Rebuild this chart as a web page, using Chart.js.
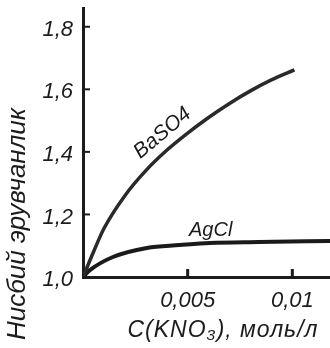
<!DOCTYPE html>
<html>
<head>
<meta charset="utf-8">
<script src="https://cdn.jsdelivr.net/npm/chart.js@4"></script>
<style>
	html, body { margin: 0; padding: 0; background: #fff; }
	#wrap { width: 330px; height: 348px; }
</style>
</head>
<body>
<div id="wrap"><canvas id="chart" width="330" height="348"></canvas></div>
<script>
// C(KNO3), mol/l  vs  relative solubility
const baso4X = [0, 0.00025, 0.0005, 0.001, 0.002, 0.003, 0.004, 0.005, 0.006, 0.007, 0.008, 0.009, 0.0101];
const baso4Y = [1.0, 1.04, 1.08, 1.155, 1.26, 1.34, 1.405, 1.46, 1.51, 1.555, 1.595, 1.63, 1.662];
const agclX = [0, 0.00033, 0.00143, 0.00305, 0.00462, 0.00605, 0.0084, 0.0118];
const agclY = [1.0, 1.022, 1.064, 1.093, 1.102, 1.109, 1.112, 1.115];
const yTicks = [1.0, 1.2, 1.4, 1.6, 1.8];
const xTicks = [0.005, 0.01];
const xTickLabels = ['0,005', '0,01'];

const ink = '#1c1c1c';
const family = "'Liberation Sans', 'DejaVu Sans', sans-serif";
const italic = (size) => ({ family: family, size: size, style: 'italic' });

const toPoints = (xs, ys) => xs.map((x, i) => ({ x: x, y: ys[i] }));

const decor = {
	id: 'decor',
	afterDatasetsDraw(chart) {
		const ctx = chart.ctx;
		const xs = chart.scales.x;
		const ys = chart.scales.y;
		ctx.save();
		ctx.strokeStyle = ink;
		// inward tick marks
		ctx.lineWidth = 2;
		for (const v of yTicks) {
			const py = ys.getPixelForValue(v);
			ctx.beginPath();
			ctx.moveTo(xs.left, py);
			ctx.lineTo(xs.left + 7, py);
			ctx.stroke();
		}
		ctx.lineWidth = 3;
		for (const v of xTicks) {
			const px = xs.getPixelForValue(v);
			ctx.beginPath();
			ctx.moveTo(px, ys.bottom);
			ctx.lineTo(px, ys.bottom - 8);
			ctx.stroke();
		}
		ctx.fillStyle = ink;
		ctx.textAlign = 'center';
		ctx.textBaseline = 'middle';
		// curve names
		ctx.font = 'italic 21px ' + family;
		ctx.save();
		ctx.translate(xs.getPixelForValue(0.0038), ys.getPixelForValue(1.46));
		ctx.rotate(-40 * Math.PI / 180);
		ctx.fillText('BaSO4', 0, 0);
		ctx.restore();
		ctx.font = 'italic 20px ' + family;
		ctx.fillText('AgCl', xs.getPixelForValue(0.0061), ys.getPixelForValue(1.15));
		// axis titles
		ctx.font = 'italic 26px ' + family;
		ctx.save();
		ctx.translate(18, 224);
		ctx.rotate(-Math.PI / 2);
		ctx.fillText('Нисбий эрувчанлик', 0, 0);
		ctx.restore();
		ctx.font = 'italic 23px ' + family;
		ctx.letterSpacing = '1px';
		ctx.fillText('C(KNO₃), моль/л', 223, 331);
		ctx.restore();
	}
};

const ctx = document.getElementById('chart').getContext('2d');
window.myChart = new Chart(ctx, {
	type: 'line',
	data: {
		datasets: [{
			label: 'BaSO4',
			data: toPoints(baso4X, baso4Y),
			borderColor: '#2a2a2a',
			borderWidth: 3.5,
			pointRadius: 0,
			cubicInterpolationMode: 'monotone'
		}, {
			label: 'AgCl',
			data: toPoints(agclX, agclY),
			borderColor: '#1a1a1a',
			borderWidth: 4,
			pointRadius: 0,
			cubicInterpolationMode: 'monotone'
		}]
	},
	options: {
		responsive: false,
		animation: false,
		layout: { padding: { top: 8, left: 0, right: 0, bottom: 0 } },
		plugins: { legend: { display: false }, tooltip: { enabled: false } },
		scales: {
			x: {
				type: 'linear',
				min: 0,
				max: 0.0118,
				afterFit: (s) => { s.height = 71; s.paddingLeft = 0; s.paddingRight = 0; },
				afterBuildTicks: (s) => { s.ticks = xTicks.map(v => ({ value: v })); },
				grid: { display: false, drawTicks: false },
				border: { display: true, color: ink, width: 3 },
				ticks: {
					color: ink,
					font: italic(22),
					padding: 11,
					maxRotation: 0,
					callback: (v) => xTickLabels[xTicks.indexOf(v)]
				}
			},
			y: {
				type: 'linear',
				min: 1.0,
				max: 1.86,
				afterFit: (s) => { s.width = 83; s.paddingTop = 0; s.paddingBottom = 0; },
				afterBuildTicks: (s) => { s.ticks = yTicks.map(v => ({ value: v })); },
				grid: { display: false, drawTicks: false },
				border: { display: true, color: ink, width: 3 },
				ticks: {
					color: ink,
					font: italic(22),
					padding: 10,
					labelOffset: 3,
					callback: (v) => v.toFixed(1).replace('.', ',')
				}
			}
		}
	},
	plugins: [decor]
});
</script>
</body>
</html>
